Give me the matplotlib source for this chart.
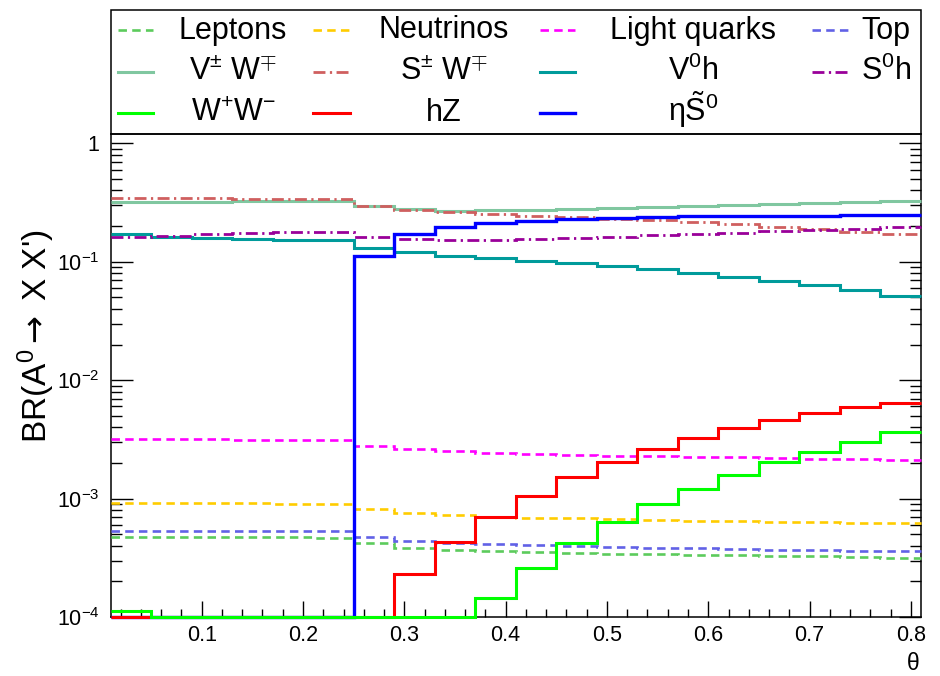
import numpy as np
import matplotlib
matplotlib.use('Agg')
import matplotlib.pyplot as plt
from matplotlib.lines import Line2D
from matplotlib.patches import Rectangle
from matplotlib.ticker import FixedLocator, LogLocator, NullFormatter

plt.rcParams['font.family'] = ['Liberation Sans', 'DejaVu Sans']
plt.rcParams['mathtext.fontset'] = 'custom'
plt.rcParams['mathtext.rm'] = 'Liberation Sans'
plt.rcParams['mathtext.it'] = 'Liberation Sans:italic'
plt.rcParams['mathtext.bf'] = 'Liberation Sans:bold'
plt.rcParams['mathtext.sf'] = 'DejaVu Sans'

# theta binning: 20 bins from 0.01 to 0.81
theta_min, theta_max, n_bins = 0.01, 0.81, 20
theta_edges = np.linspace(theta_min, theta_max, n_bins + 1)

# branching ratios per bin (0 means below the plotted floor)
br_leptons = [4.77e-4, 4.76e-4, 4.75e-4, 4.73e-4, 4.71e-4, 4.68e-4, 4.19e-4, 3.85e-4, 3.68e-4, 3.59e-4,
              3.52e-4, 3.47e-4, 3.43e-4, 3.41e-4, 3.36e-4, 3.32e-4, 3.28e-4, 3.26e-4, 3.19e-4, 3.15e-4]
br_neutrinos = [9.18e-4, 9.16e-4, 9.14e-4, 9.12e-4, 9.09e-4, 9.06e-4, 8.17e-4, 7.51e-4, 7.22e-4, 7.03e-4,
                6.90e-4, 6.81e-4, 6.73e-4, 6.59e-4, 6.51e-4, 6.47e-4, 6.39e-4, 6.35e-4, 6.26e-4, 6.18e-4]
br_light_quarks = [3.18e-3, 3.17e-3, 3.16e-3, 3.15e-3, 3.14e-3, 3.13e-3, 2.80e-3, 2.62e-3, 2.51e-3, 2.44e-3,
                   2.38e-3, 2.33e-3, 2.30e-3, 2.28e-3, 2.25e-3, 2.23e-3, 2.20e-3, 2.17e-3, 2.16e-3, 2.13e-3]
br_top = [5.36e-4, 5.35e-4, 5.34e-4, 5.32e-4, 5.31e-4, 5.29e-4, 4.77e-4, 4.38e-4, 4.19e-4, 4.11e-4,
          4.03e-4, 3.98e-4, 3.93e-4, 3.85e-4, 3.80e-4, 3.75e-4, 3.71e-4, 3.68e-4, 3.63e-4, 3.59e-4]
br_vw = [0.317, 0.319, 0.321, 0.323, 0.325, 0.327, 0.295, 0.277, 0.271, 0.272,
         0.275, 0.281, 0.284, 0.288, 0.295, 0.301, 0.307, 0.315, 0.321, 0.328]
br_sw = [0.347, 0.346, 0.344, 0.342, 0.340, 0.338, 0.295, 0.273, 0.261, 0.252,
         0.245, 0.237, 0.232, 0.225, 0.218, 0.207, 0.198, 0.189, 0.179, 0.170]
br_v0h = [0.170, 0.161, 0.158, 0.157, 0.154, 0.152, 0.132, 0.120, 0.112, 0.108,
          0.102, 0.0969, 0.092, 0.0862, 0.0798, 0.0748, 0.0692, 0.0631, 0.0573, 0.0516]
br_s0h = [0.161, 0.165, 0.170, 0.174, 0.177, 0.179, 0.162, 0.155, 0.153, 0.154,
          0.156, 0.160, 0.163, 0.167, 0.171, 0.176, 0.182, 0.185, 0.191, 0.195]
br_eta_s0 = [0, 0, 0, 0, 0, 0, 0.112, 0.171, 0.198, 0.211,
             0.223, 0.229, 0.236, 0.240, 0.242, 0.243, 0.245, 0.245, 0.246, 0.247]
br_hz = [0, 0, 0, 0, 0, 0, 0, 2.31e-4, 4.27e-4, 7.04e-4,
         1.06e-3, 1.51e-3, 2.02e-3, 2.62e-3, 3.27e-3, 3.92e-3, 4.61e-3, 5.29e-3, 5.90e-3, 6.38e-3]
br_ww = [1.13e-4, 0, 0, 0, 0, 0, 0, 0, 0, 1.44e-4,
         2.61e-4, 4.19e-4, 6.30e-4, 8.95e-4, 1.21e-3, 1.57e-3, 2.02e-3, 2.49e-3, 3.03e-3, 3.63e-3]

labels = ['Leptons', 'Neutrinos', 'Light quarks', 'Top',
          'V$^{\\pm}$ W$^{\\mp}$', 'S$^{\\pm}$ W$^{\\mp}$', 'V$^{0}$h', 'S$^{0}$h',
          'W$^{+}$W$^{-}$', 'hZ', '\u03b7$\\tilde{\\mathrm{S}}^{0}$']
series = [br_leptons, br_neutrinos, br_light_quarks, br_top,
          br_vw, br_sw, br_v0h, br_s0h, br_ww, br_hz, br_eta_s0]

x_ticks = [0.1, 0.2, 0.3, 0.4, 0.5, 0.6, 0.7, 0.8]
x_tick_labels = ['0.1', '0.2', '0.3', '0.4', '0.5', '0.6', '0.7', '0.8']
y_ticks = [1e-4, 1e-3, 1e-2, 1e-1, 1]
y_tick_labels = ['$10^{-4}$', '$10^{-3}$', '$10^{-2}$', '$10^{-1}$', '1']

DASH = (0, (3.2, 2.0))
DASHDOT = (0, (4.3, 1.6, 0.8, 1.6))
styles = [
    dict(color='#5ccb5c', lw=1.9, ls=DASH),
    dict(color='#ffcc00', lw=1.9, ls=DASH),
    dict(color='#ff00ff', lw=1.9, ls=DASH),
    dict(color='#6161e6', lw=1.9, ls=DASH),
    dict(color='#80c7a0', lw=2.2, ls='-'),
    dict(color='#cf5f5f', lw=2.0, ls=DASHDOT),
    dict(color='#009b9b', lw=2.2, ls='-'),
    dict(color='#990099', lw=2.0, ls=DASHDOT),
    dict(color='#00ff00', lw=2.2, ls='-'),
    dict(color='#ff0000', lw=2.2, ls='-'),
    dict(color='#0000ff', lw=2.4, ls='-'),
]
zorders = [3, 3, 3, 3, 3, 3, 3, 3, 6, 5, 4]

YMIN, YMAX = 1e-4, 1.2
W, H = 940, 676


def fx(px):
    return px / W


def fy(py):
    return 1 - py / H


fig = plt.figure(figsize=(W / 100, H / 100), dpi=100)
ax = fig.add_axes([fx(110.5), fy(617), fx(921) - fx(110.5), (617 - 134) / H])

for vals, st, z in zip(series, styles, zorders):
    ax.stairs(np.clip(vals, YMIN, None), theta_edges, baseline=None, fill=False,
              edgecolor=st['color'], linewidth=st['lw'], linestyle=st['ls'],
              zorder=z, clip_on=False)

ax.set_yscale('log')
ax.set_xlim(theta_min, theta_max)
ax.set_ylim(YMIN, YMAX)

ax.xaxis.set_major_locator(FixedLocator(x_ticks))
ax.set_xticklabels(x_tick_labels)
ax.xaxis.set_minor_locator(FixedLocator(np.arange(0.02, 0.81, 0.02)))
ax.yaxis.set_major_locator(FixedLocator(y_ticks))
ax.set_yticklabels(y_tick_labels)
ax.yaxis.set_minor_locator(LogLocator(base=10, subs=range(2, 10)))
ax.yaxis.set_minor_formatter(NullFormatter())

ax.tick_params(axis='x', which='major', direction='in', length=11.5, width=1,
               top=False, labelsize=15.5, pad=6)
ax.tick_params(axis='x', which='minor', direction='in', length=5.8, width=1, top=False)
ax.tick_params(axis='y', which='major', direction='in', length=15.6, width=1,
               right=True, labelsize=15.5, pad=8)
ax.tick_params(axis='y', which='minor', direction='in', length=7.7, width=1, right=True)
for sp in ax.spines.values():
    sp.set_linewidth(1.1)

fig.text(fx(36), fy(336), "BR(A$^{0}$$\\mathsf{\\rightarrow}$ X X')", rotation=90,
         ha='center', va='center', fontsize=24)
fig.text(fx(920), fy(663), '\u03b8', ha='right', va='center', fontsize=16.5)

# legend box drawn by hand, ROOT-style with centred labels
fig.add_artist(Rectangle((fx(110.5), fy(134)), fx(921) - fx(110.5), (134 - 10) / H,
                         transform=fig.transFigure, fill=False, lw=1.1, edgecolor='black'))
col_sample = [(118, 153), (313, 350), (540, 575), (812, 848)]
col_text = [233, 444, 693, 886]
row_base = [38.5, 80, 121]
for i, (lab, st) in enumerate(zip(labels, styles)):
    r, c = divmod(i, 4)
    x0, x1 = col_sample[c]
    ys = row_base[r] - 8.5
    fig.add_artist(Line2D([fx(x0), fx(x1)], [fy(ys), fy(ys)], transform=fig.transFigure,
                          color=st['color'], lw=st['lw'], linestyle=st['ls']))
    fig.text(fx(col_text[c]), fy(row_base[r]), lab, ha='center', va='baseline', fontsize=22)

fig.savefig('out.png', dpi=100)
